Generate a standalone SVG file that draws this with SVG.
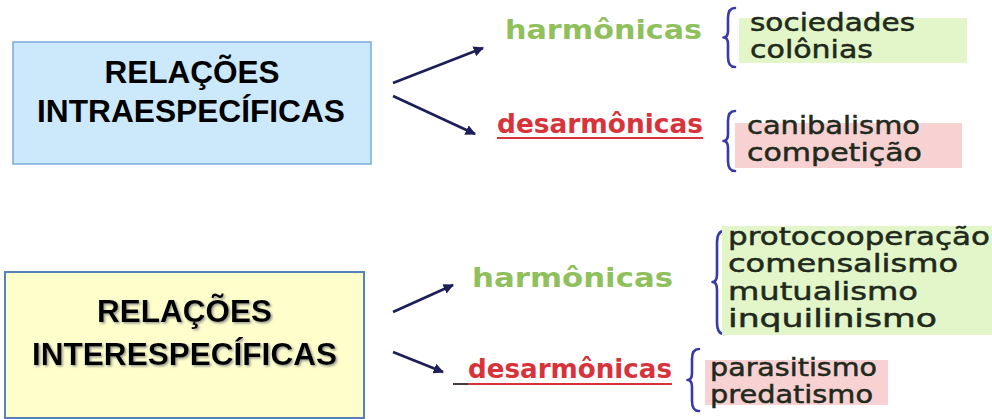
<svg xmlns="http://www.w3.org/2000/svg" width="992" height="419" viewBox="0 0 992 419">
<style>
.box-title{font-family:"Liberation Sans",Arial,sans-serif;font-weight:bold;font-size:31px;fill:#000;text-anchor:middle}
.harm{font-family:"DejaVu Sans",Verdana,sans-serif;font-weight:bold;font-size:26px;fill:#8fc05c}
.desarm{font-family:"DejaVu Sans",Verdana,sans-serif;font-weight:bold;font-size:26px;fill:#d8333b}
.item{font-family:"DejaVu Sans",Verdana,sans-serif;font-size:25px;fill:#1f2a1d;stroke:#1f2a1d;stroke-width:0.5}
.brace{fill:none;stroke:#3a3aa6;stroke-width:2.6;stroke-linecap:round;stroke-linejoin:round}
.arrow{stroke:#1d1d5a;stroke-width:2.6;fill:none;marker-end:url(#ah)}
.uline{stroke:#d8333b;stroke-width:2}
.green{fill:#e3f6c9}
.pink{fill:#f8d2d2}
</style>
<defs>
<marker id="ah" viewBox="0 0 10 10" refX="9" refY="5" markerWidth="4" markerHeight="4" orient="auto" markerUnits="strokeWidth">
<path d="M0,0 L10,5 L0,10 z" fill="#1d1d5a"/>
</marker>
<filter id="shadow" x="-5%" y="-20%" width="110%" height="140%">
<feDropShadow dx="1.5" dy="1.5" stdDeviation="1.2" flood-color="#808080" flood-opacity="0.8"/>
</filter>
</defs>

<g id="intra">
<rect x="13" y="42" width="358" height="122" fill="#cce9fb" stroke="#78acdc" stroke-width="1.5"/>
<text class="box-title" x="192" y="83" textLength="175" lengthAdjust="spacingAndGlyphs">RELAÇÕES</text>
<text class="box-title" x="191" y="122" textLength="308" lengthAdjust="spacingAndGlyphs">INTRAESPECÍFICAS</text>
</g>

<g id="inter">
<rect x="5" y="272" width="359" height="146" fill="#ffffcc" stroke="#5682b8" stroke-width="2"/>
<g filter="url(#shadow)">
<text class="box-title" x="184.5" y="322" textLength="175" lengthAdjust="spacingAndGlyphs">RELAÇÕES</text>
<text class="box-title" x="184.5" y="365" textLength="305" lengthAdjust="spacingAndGlyphs">INTERESPECÍFICAS</text>
</g>
</g>

<g id="connectors">
<line class="arrow" x1="393" y1="83" x2="483" y2="48"/>
<line class="arrow" x1="393" y1="96" x2="475" y2="134"/>
<line class="arrow" x1="393" y1="312" x2="453" y2="285"/>
<line class="arrow" x1="393" y1="352" x2="443" y2="372"/>
</g>

<g id="intra-harm">
<text class="harm" x="505" y="39" textLength="197" lengthAdjust="spacingAndGlyphs">harmônicas</text>
<path class="brace" d="M735,8 Q728,8 728,18 L728,31 Q728,37.5 723.5,37.5 Q728,37.5 728,44 L728,57 Q728,67 735,67"/>
<rect class="green" x="739" y="18" width="228" height="45"/>
<text class="item" x="750" y="31" textLength="165" lengthAdjust="spacingAndGlyphs">sociedades</text>
<text class="item" x="750" y="58" textLength="123" lengthAdjust="spacingAndGlyphs">colônias</text>
</g>

<g id="intra-desarm">
<text class="desarm" x="497" y="133" textLength="206" lengthAdjust="spacingAndGlyphs">desarmônicas</text>
<line class="uline" x1="497" y1="138" x2="703" y2="138"/>
<path class="brace" d="M735,111 Q728,111 728,121 L728,134 Q728,141 723.5,141 Q728,141 728,148 L728,161 Q728,171 735,171"/>
<rect class="pink" x="735" y="123" width="227" height="45"/>
<text class="item" x="747" y="134" textLength="173" lengthAdjust="spacingAndGlyphs">canibalismo</text>
<text class="item" x="747" y="161" textLength="175" lengthAdjust="spacingAndGlyphs">competição</text>
</g>

<g id="inter-harm">
<text class="harm" x="472" y="287" textLength="201" lengthAdjust="spacingAndGlyphs">harmônicas</text>
<path class="brace" d="M724,231 Q717,231 717,243 L717,274 Q717,282 712.5,282 Q717,282 717,290 L717,322 Q717,334 724,334"/>
<rect class="green" x="722" y="226" width="270" height="109"/>
<text class="item" x="728" y="245" textLength="262" lengthAdjust="spacingAndGlyphs">protocooperação</text>
<text class="item" x="728" y="272" textLength="230" lengthAdjust="spacingAndGlyphs">comensalismo</text>
<text class="item" x="728" y="300" textLength="190" lengthAdjust="spacingAndGlyphs">mutualismo</text>
<text class="item" x="728" y="327" textLength="209" lengthAdjust="spacingAndGlyphs">inquilinismo</text>
</g>

<g id="inter-desarm">
<text class="desarm" x="468" y="378" textLength="204" lengthAdjust="spacingAndGlyphs">desarmônicas</text>
<line x1="453" y1="384" x2="468" y2="384" stroke="#4a3a3a" stroke-width="2"/>
<line class="uline" x1="468" y1="384" x2="672" y2="384"/>
<path class="brace" d="M699,349 Q692,349 692,359 L692,373 Q692,380 687.5,380 Q692,380 692,387 L692,401 Q692,411 699,411"/>
<rect class="pink" x="705" y="360" width="183" height="45"/>
<text class="item" x="710" y="376" textLength="167" lengthAdjust="spacingAndGlyphs">parasitismo</text>
<text class="item" x="710" y="403" textLength="163" lengthAdjust="spacingAndGlyphs">predatismo</text>
</g>
</svg>
